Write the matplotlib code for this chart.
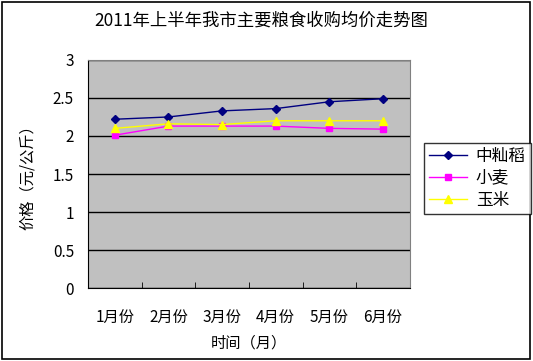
import matplotlib.pyplot as plt
from matplotlib.patches import Rectangle

plt.rcParams['font.family'] = ['Noto Sans CJK SC', 'DejaVu Sans']

months = ['1月份', '2月份', '3月份', '4月份', '5月份', '6月份']
rice = [2.22, 2.25, 2.33, 2.36, 2.45, 2.49]
wheat = [2.01, 2.13, 2.13, 2.13, 2.10, 2.09]
corn = [2.10, 2.16, 2.15, 2.20, 2.20, 2.20]

fig = plt.figure(figsize=(5.33, 3.61), dpi=100)
fig.patches.append(Rectangle((0.004, 0.006), 0.99, 0.988, transform=fig.transFigure,
                             fill=False, edgecolor='black', linewidth=1.2))

ax = fig.add_axes([0.165, 0.202, 0.604, 0.632])
ax.set_facecolor('#C0C0C0')
x = list(range(len(months)))

ax.plot(x, rice, color='#000080', marker='D', markersize=4.5, linewidth=1, label='中籼稻')
ax.plot(x, wheat, color='#FF00FF', marker='s', markersize=4.5, linewidth=1, label='小麦')
ax.plot(x, corn, color='#FFFF00', marker='^', markersize=5.5, linewidth=1, label='玉米')

ax.set_xlim(-0.5, len(months) - 0.5)
ax.set_ylim(0, 3)
ax.set_yticks([0, 0.5, 1, 1.5, 2, 2.5, 3])
ax.set_yticklabels(['0', '0.5', '1', '1.5', '2', '2.5', '3'])
ax.set_xticks(x)
ax.set_xticklabels(months)
ax.set_xticks([i - 0.5 for i in range(1, len(months))], minor=True)
ax.tick_params(axis='x', which='major', length=0, pad=16, labelsize=11)
ax.tick_params(axis='x', which='minor', direction='in', length=4, color='black')
ax.tick_params(axis='y', length=0, pad=10, labelsize=11)
ax.grid(axis='y', color='black', linewidth=1)
ax.set_axisbelow(True)

for side in ['top', 'right']:
    ax.spines[side].set_color('#808080')
for side in ['left', 'bottom']:
    ax.spines[side].set_color('black')

ax.set_xlabel('时间（月）', fontsize=11, labelpad=5)
ax.set_ylabel('价格（元/公斤）', fontsize=11, labelpad=12)
fig.text(0.49, 0.943, '2011年上半年我市主要粮食收购均价走势图', ha='center', va='center', fontsize=12.5)

leg = fig.legend(loc='upper left', bbox_to_anchor=(0.780, 0.628), frameon=True,
                 fancybox=False, edgecolor='black', fontsize=12,
                 handlelength=2.3, handletextpad=0.5, borderpad=0.3, labelspacing=0.3)
leg.get_frame().set_linewidth(1)

fig.savefig('out.png', dpi=100)
